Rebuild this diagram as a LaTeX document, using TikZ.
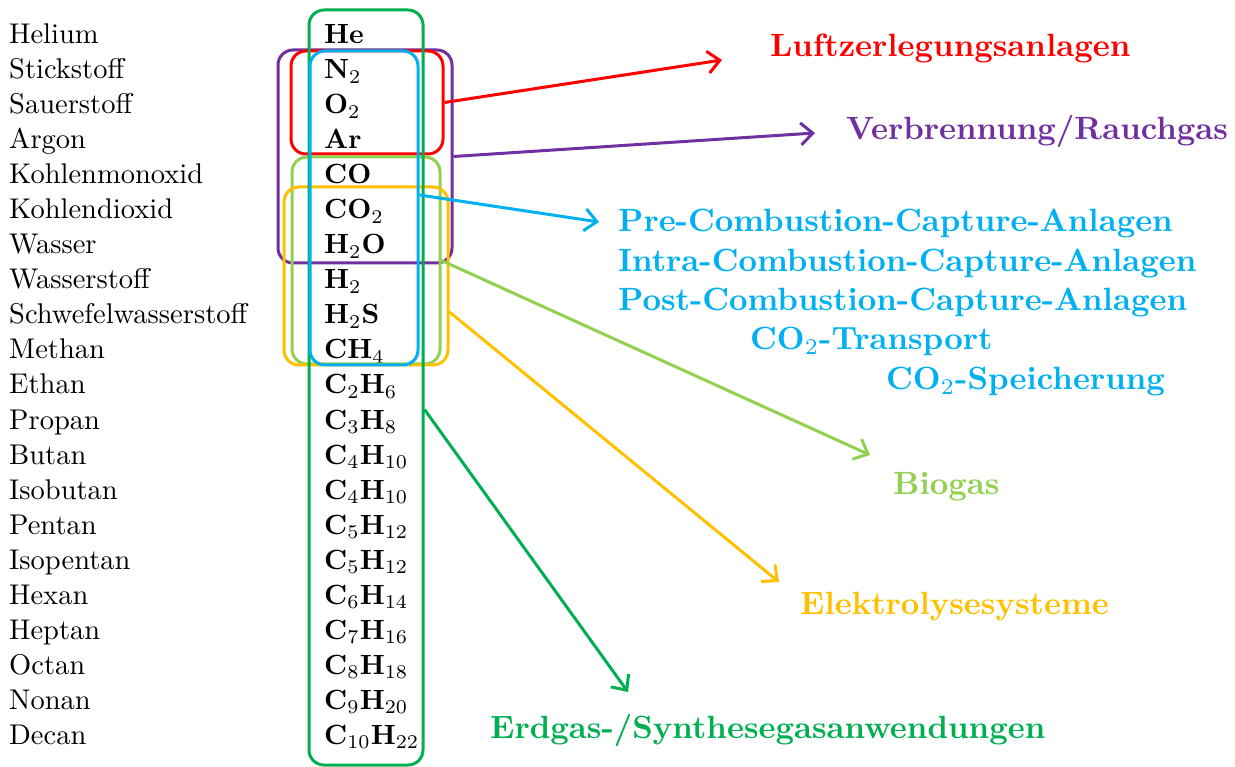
\documentclass[tikz,border=0pt]{standalone}
\usepackage{graphicx}
\usetikzlibrary{arrows.meta}
\definecolor{cred}{RGB}{255,0,0}
\definecolor{cpurple}{RGB}{112,48,160}
\definecolor{cblue}{RGB}{0,176,240}
\definecolor{clgreen}{RGB}{146,208,80}
\definecolor{cyellow}{RGB}{255,192,0}
\definecolor{cdgreen}{RGB}{0,176,80}
\newcommand{\nametxt}[1]{\scalebox{2.85}{#1}}
\newcommand{\rowtxt}[1]{\scalebox{2.78}{#1}}
\newcommand{\lbltxt}[1]{\scalebox{3.22}{\bfseries #1}}
\begin{document}
\begin{tikzpicture}[x=1pt,y=-1pt,
  rowname/.style={anchor=base west,inner sep=0pt},
  formula/.style={anchor=base west,inner sep=0pt},
  grp/.style={draw=#1,line width=3pt,rounded corners=15pt,inner sep=0pt,rectangle},
  lbl/.style={anchor=base west,inner sep=0pt,text=#1},
  arr/.style={draw=#1,line width=3pt,-{Straight Barb[length=12pt,width=22pt,line width=3pt]}}]
\useasboundingbox (0,0) rectangle (1235,767);
% rows
\foreach \i/\nm/\fm in {0/Helium/\textbf{He},
  1/Stickstoff/\textbf{N}$_2$,
  2/Sauerstoff/\textbf{O}$_2$,
  3/Argon/\textbf{Ar},
  4/Kohlenmonoxid/\textbf{CO},
  5/Kohlendioxid/\textbf{CO}$_2$,
  6/Wasser/\textbf{H}$_2$\textbf{O},
  7/Wasserstoff/\textbf{H}$_2$,
  8/Schwefelwasserstoff/\textbf{H}$_2$\textbf{S},
  9/Methan/\textbf{CH}$_4$,
  10/Ethan/\textbf{C}$_2$\textbf{H}$_6$,
  11/Propan/\textbf{C}$_3$\textbf{H}$_8$,
  12/Butan/\textbf{C}$_4$\textbf{H}$_{10}$,
  13/Isobutan/\textbf{C}$_4$\textbf{H}$_{10}$,
  14/Pentan/\textbf{C}$_5$\textbf{H}$_{12}$,
  15/Isopentan/\textbf{C}$_5$\textbf{H}$_{12}$,
  16/Hexan/\textbf{C}$_6$\textbf{H}$_{14}$,
  17/Heptan/\textbf{C}$_7$\textbf{H}$_{16}$,
  18/Octan/\textbf{C}$_8$\textbf{H}$_{18}$,
  19/Nonan/\textbf{C}$_9$\textbf{H}$_{20}$,
  20/Decan/\textbf{C}$_{10}$\textbf{H}$_{22}$}{
  \node[rowname] (n\i) at (9,{44+35*\i}) {\nametxt{\nm}};
  \node[formula] (f\i) at (324,{44+35*\i}) {\rowtxt{\fm}};
}
% group boxes
\node[grp=cpurple,minimum width=174pt,minimum height=213pt] (pbox) at (365,156.5) {};
\node[grp=cred,minimum width=152pt,minimum height=103pt] (rbox) at (367,102.5) {};
\node[grp=clgreen,minimum width=148pt,minimum height=207pt] (lbox) at (366,260.5) {};
\node[grp=cyellow,minimum width=164pt,minimum height=178pt] (ybox) at (366,276) {};
\node[grp=cdgreen,minimum width=114pt,minimum height=755pt] (gbox) at (366,387.5) {};
\node[grp=cblue,minimum width=108pt,minimum height=314pt] (bbox) at (364,208) {};
% labels
\node[lbl=cred] (lluft) at (770,57) {\lbltxt{Luftzerlegungsanlagen}};
\node[lbl=cpurple] (lverb) at (846,140) {\lbltxt{Verbrennung/Rauchgas}};
\node[lbl=cblue] (lpre) at (618,232) {\lbltxt{Pre-Combustion-Capture-Anlagen}};
\node[lbl=cblue] (lintra) at (618,272) {\lbltxt{Intra-Combustion-Capture-Anlagen}};
\node[lbl=cblue] (lpost) at (618,311) {\lbltxt{Post-Combustion-Capture-Anlagen}};
\node[lbl=cblue] (ltrans) at (750,350) {\lbltxt{CO$_2$-Transport}};
\node[lbl=cblue] (lspei) at (886,390) {\lbltxt{CO$_2$-Speicherung}};
\node[lbl=clgreen] (lbio) at (893,494) {\lbltxt{Biogas}};
\node[lbl=cyellow] (lelek) at (800,614) {\lbltxt{Elektrolysesysteme}};
\node[lbl=cdgreen] (lerd) at (490,738) {\lbltxt{Erdgas-/Synthesegasanwendungen}};
% arrow ends
\coordinate (eluft) at (722,60);
\coordinate (everb) at (815,133);
\coordinate (epre) at (599,222);
\coordinate (ebio) at (870,455);
\coordinate (eelek) at (779,582);
\coordinate (eerd) at (628,692);
% arrows
\draw[arr=cred] (rbox.east) -- (eluft);
\draw[arr=cpurple] (pbox.east) -- (everb);
\draw[arr=cblue] ([yshift=13pt]bbox.east) -- (epre);
\draw[arr=clgreen] (lbox.east) -- (ebio);
\draw[arr=cyellow] ([yshift=-36pt]ybox.east) -- (eelek);
\draw[arr=cdgreen] ([yshift=-22pt]gbox.east) -- (eerd);
\end{tikzpicture}
\end{document}
